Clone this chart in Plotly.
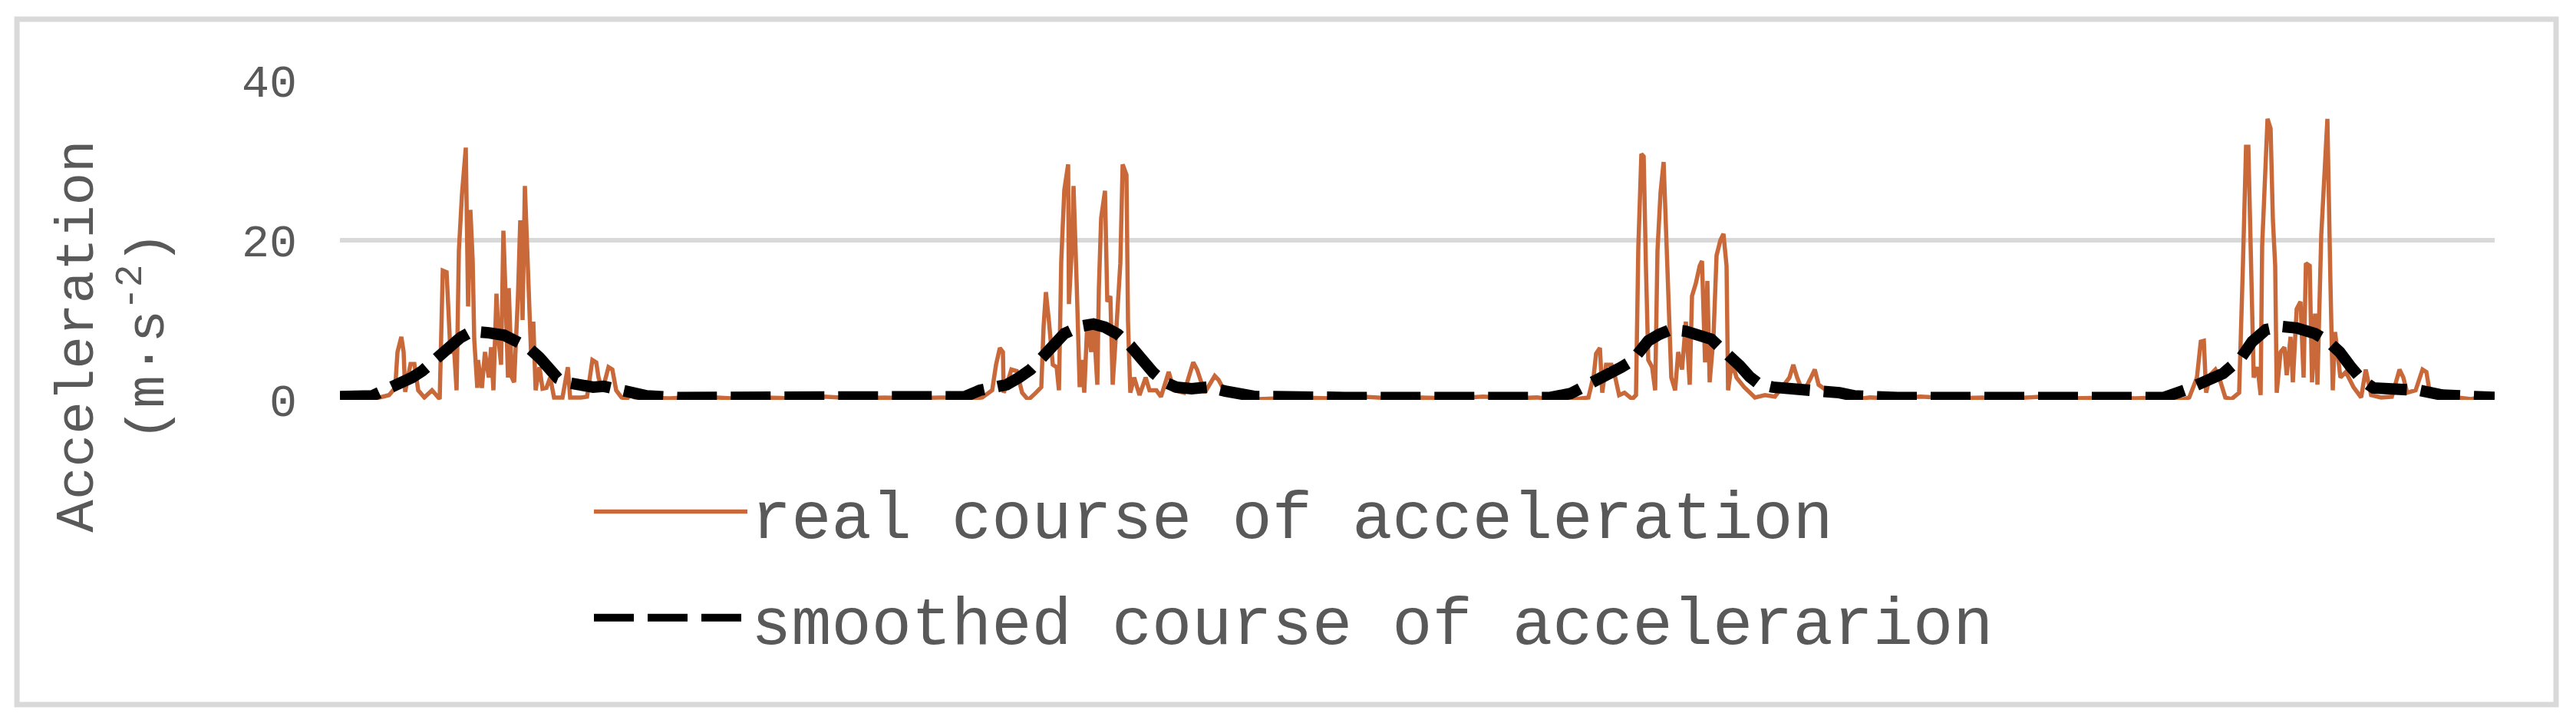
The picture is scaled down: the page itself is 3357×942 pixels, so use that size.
import plotly.graph_objects as go

# time axis = sample position along the record (no labels on the chart)
# values, acceleration in m/s^2

#------------------------------------------------------
# real course of acceleration, four bursts + quiet parts
#------------------------------------------------------
burst1_t = [0, 20, 44, 64, 72, 75, 80, 83, 85, 92, 97, 102, 110, 120, 130, 134, 139, 141, 144, 149,
            152, 155, 159, 164, 167, 170, 173, 175, 179, 180, 185, 189, 194, 197, 200, 204, 207, 210,
            213, 215, 219, 220, 224, 227, 232, 235, 238, 241, 244, 247, 249, 252, 255, 260, 264, 269,
            274, 279, 290, 297, 300, 314, 322, 329, 334, 337, 342, 350, 355, 360, 367, 374, 377, 384, 397]
burst1_a = [0.2, 0.3, 0.1, 0.6, 1.5, 6, 7.9, 6, 1, 4.5, 4.5, 1.2, 0.3, 1.2, 0.1, 16.2, 16, 11, 6, 6,
            1.2, 18.7, 25.7, 31.6, 11.7, 23.8, 17.4, 7.6, 1.5, 5, 1.5, 6, 2.8, 6.6, 1.2, 13.3, 7.3, 4.4,
            21.2, 15.5, 2.8, 14, 2.8, 2.2, 13, 22.5, 10, 26.8, 17.4, 9.8, 6, 9.8, 1.2, 4.1, 1.4, 1.5,
            2.8, 0.3, 0.3, 4.1, 0.3, 0.3, 0.4, 5, 4.7, 2.8, 1.2, 4.1, 3.8, 1.2, 0.3, 0.1, 0.6, 0.3, 0.3]

quiet1_t = [430, 470, 510, 550, 590, 630, 670, 710, 750, 780]
quiet1_a = [0.2, 0.4, 0.2, 0.3, 0.2, 0.4, 0.2, 0.3, 0.2, 0.3]

burst2_t = [797, 810, 817, 837, 850, 855, 860, 864, 865, 869, 875, 882, 889, 897, 907, 914, 917, 920,
            924, 929, 934, 937, 940, 944, 949, 950, 954, 956, 960, 964, 967, 970, 974, 979, 982, 987,
            989, 992, 997, 1000, 1004, 1007, 1012, 1017, 1020, 1025, 1027, 1030, 1035, 1042, 1050,
            1055, 1064, 1070, 1080, 1087, 1100, 1112, 1117, 1122, 1127, 1140, 1145, 1154, 1174, 1187,
            1197, 1217]
burst2_a = [0.3, 0.3, 0.1, 0.3, 1.2, 4.4, 6.5, 6, 0.9, 1.9, 3.8, 3.6, 0.9, 0, 0.9, 1.6, 9.2, 13.5,
            9.8, 4.4, 4.1, 1.2, 17.4, 26.3, 29.5, 12, 19.3, 26.8, 14.9, 1.6, 5, 0.9, 9.8, 6, 10.1, 1.9,
            13.9, 22.8, 26.2, 12.3, 13, 1.9, 9.2, 17.1, 29.5, 28.2, 9.8, 0.9, 2.8, 0.6, 2.8,
            1.2, 1.2, 0.4, 3.5, 1.2, 0.9, 4.7, 3.8, 2.5, 0.9, 3, 2.5, 0.9, 0.6, 0.4,
            0.1, 0.2]

quiet2_t = [1250, 1290, 1330, 1370, 1410, 1450, 1490, 1530, 1560]
quiet2_a = [0.3, 0.2, 0.4, 0.2, 0.3, 0.2, 0.4, 0.2, 0.3]

burst3_t = [1577, 1590, 1597, 1610, 1627, 1634, 1637, 1642, 1645, 1650, 1657, 1662, 1667, 1674, 1684,
            1689, 1692, 1696, 1699, 1702, 1705, 1710, 1714, 1717, 1721, 1725, 1729, 1732, 1735, 1740,
            1744, 1749, 1754, 1759, 1762, 1767, 1772, 1775, 1779, 1782, 1785, 1790, 1794, 1799, 1803,
            1807, 1809, 1814, 1820, 1830, 1844, 1857, 1870, 1889, 1894, 1899, 1907, 1917, 1922, 1927,
            1937, 1960, 1977, 1994]
burst3_a = [0.1, 0.3, 0.4, 0.1, 0.3, 3.1, 5.8, 6.5, 0.9, 4.4, 4.4, 2.8, 0.6, 0.9, 0.1,
            0.6, 19, 30.8, 30.5, 16.5, 5, 4.1, 1.2, 18.7, 26, 29.8, 19, 14.3, 2.8, 1.2,
            6, 3.8, 9.8, 1.9, 13, 14.6, 16.8, 17.4, 4.7, 14.9, 2.2, 7.9, 18.1, 20, 20.8,
            16.8, 1.2, 4.7, 2.8, 1.6, 0.3, 0.6, 0.4, 2.8, 4.4, 2.8, 0.9, 2.8, 3.8, 1.9,
            1.2, 0.6, 0.1, 0.3]

quiet3_t = [2020, 2060, 2100, 2140, 2180, 2220, 2260, 2300, 2340, 2365]
quiet3_a = [0.2, 0.4, 0.2, 0.3, 0.2, 0.4, 0.2, 0.3, 0.2, 0.3]

burst4_t = [2377, 2390, 2400, 2410, 2420, 2425, 2429, 2432, 2437, 2444, 2449, 2457, 2465, 2475, 2480,
            2484, 2487, 2490, 2494, 2499, 2503, 2505, 2509, 2512, 2516, 2519, 2522, 2524, 2529, 2534,
            2537, 2542, 2545, 2550, 2555, 2559, 2562, 2567, 2570, 2574, 2577, 2582, 2586, 2590, 2594,
            2597, 2600, 2607, 2614, 2624, 2634, 2640, 2647, 2660, 2674, 2684, 2689, 2694, 2705, 2714,
            2719, 2724, 2740, 2760, 2777, 2794, 2808]
burst4_a = [0.3, 0.4, 0, 0.3, 2.8, 7.3, 7.4, 0.9, 3.1, 3.8, 2.8, 0.3, 0.1, 0.9, 17.1,
            31.7, 31.7, 19.7, 2.8, 4.1, 0.6, 19.3, 27.1, 35.2, 34, 22.5, 16.8, 0.9, 6, 6.6,
            3.1, 7.9, 2.2, 11.4, 12.3, 2.8, 17.1, 16.8, 2.2, 10.8, 1.9, 20.6, 27.9, 35.2, 14.6,
            1.2, 8.5, 2.8, 3.5, 1.6, 0.3, 3.8, 0.6, 0.3, 0.4, 3.8, 2.8, 0.9, 1.2, 3.8,
            3.5, 0.6, 0.3, 0.3, 0.1, 0.4, 0.3]

#------------------------------------------------------
# smoothed course
#------------------------------------------------------
smooth1_t = [0, 42, 60, 77, 94, 107, 120, 134, 144, 157, 172, 184, 194, 214, 234, 245, 260, 272, 284,
             300, 320, 330, 344, 364, 384, 400]
smooth1_a = [0.4, 0.5, 1.3, 1.9, 2.8, 3.6, 4.8, 5.7, 6.9, 7.8, 8.6, 8.6, 8.4, 8.1, 7.3, 6.6, 5.3, 3.8, 2.7,
             2.1, 1.6, 1.6, 1.7, 1.3, 0.8, 0.5]

smooth_q1_t = [440, 500, 560, 620, 680, 740, 780]
smooth_q1_a = [0.3, 0.3, 0.3, 0.3, 0.3, 0.3, 0.2]

smooth2_t = [797, 814, 834, 855, 869, 885, 900, 915, 930, 944, 964, 982, 997, 1014, 1030, 1045, 1060,
             1075, 1090, 1110, 1132, 1154, 1170, 1194, 1217]
smooth2_a = [0.1, 0.4, 1.2, 1.6, 1.9, 2.8, 3.8, 5.3, 6.8, 8.3, 9.2, 9.5, 9.1, 8.2, 6.8, 4.9, 3.4,
             2.2, 1.6, 1.4, 1.6, 1.1, 0.8, 0.4, 0.4]

smooth_q2_t = [1250, 1310, 1370, 1430, 1490, 1550]
smooth_q2_a = [0.3, 0.3, 0.3, 0.3, 0.3, 0.3]

smooth3_t = [1577, 1604, 1620, 1639, 1654, 1670, 1684, 1694, 1705, 1719, 1734, 1754, 1772, 1787, 1797,
             1814, 1824, 1837, 1849, 1867, 1890, 1910, 1934, 1954, 1974, 1994]
smooth3_a = [0.3, 0.8, 1.6, 2.2, 3.1, 4.1, 4.9, 6.3, 7.4, 8.2, 8.8, 8.6, 8.2, 7.6, 6.7,
             5.4, 4.3, 2.9, 2.0, 1.6, 1.5, 1.4, 1.2, 0.9, 0.5, 0.3]

smooth_q3_t = [2030, 2090, 2150, 2210, 2270, 2330]
smooth_q3_a = [0.3, 0.3, 0.3, 0.3, 0.3, 0.3]

smooth4_t = [2377, 2404, 2420, 2440, 2454, 2477, 2492, 2510, 2530, 2550, 2574, 2590, 2606, 2620, 2635,
             2650, 2674, 2710, 2740, 2777, 2808]
smooth4_a = [0.3, 1.2, 1.9, 2.5, 3.3, 5.2, 7.3, 8.8, 9.2, 9.0, 8.3, 7.4, 6.0, 4.2, 2.5,
             1.5, 1.5, 1.2, 0.6, 0.5, 0.3]

y_ticks = [0, 20, 40]

t_real = burst1_t + quiet1_t + burst2_t + quiet2_t + burst3_t + quiet3_t + burst4_t
a_real = burst1_a + quiet1_a + burst2_a + quiet2_a + burst3_a + quiet3_a + burst4_a
t_smooth = smooth1_t + smooth_q1_t + smooth2_t + smooth_q2_t + smooth3_t + smooth_q3_t + smooth4_t
a_smooth = smooth1_a + smooth_q1_a + smooth2_a + smooth_q2_a + smooth3_a + smooth_q3_a + smooth4_a

GREY_TXT = "#595959"
GRID = "#D9D9D9"
FONT = "Liberation Mono, Courier New, monospace"

fig = go.Figure()

fig.add_trace(go.Scatter(
    x=t_real, y=a_real, mode="lines",
    name="real course of acceleration",
    line=dict(color="#C9693A", width=5.5),
    legend="legend",
))
fig.add_trace(go.Scatter(
    x=t_smooth, y=a_smooth, mode="lines",
    name="smoothed course of accelerarion",
    line=dict(color="black", width=15, dash="52px,18px"),
    legend="legend2",
))

leg_common = dict(
    xanchor="left", yanchor="middle",
    font=dict(family=FONT, size=87, color=GREY_TXT),
    bgcolor="rgba(0,0,0,0)", itemwidth=200,
)

fig.update_layout(
    width=3357, height=942,
    margin=dict(l=443, r=106, t=105, b=421),
    paper_bgcolor="white", plot_bgcolor="white",
    showlegend=True,
    legend=dict(x=0.1161, y=-0.351, **leg_common),
    legend2=dict(x=0.1161, y=-0.683, **leg_common),
    xaxis=dict(range=[0, 2808], visible=False, showgrid=False, zeroline=False),
    yaxis=dict(
        range=[0, 40], tickvals=y_ticks, showgrid=True, gridcolor=GRID, gridwidth=6,
        zeroline=False, showline=False, ticks="", ticklabelstandoff=55,
        tickfont=dict(family=FONT, size=60, color=GREY_TXT),
    ),
    annotations=[dict(
        text="Acceleration<br>(m·s<sup>-2</sup>)",
        xref="paper", yref="paper", x=-0.1051, y=0.2,
        xanchor="center", yanchor="middle", showarrow=False, textangle=-90,
        font=dict(family=FONT, size=71, color=GREY_TXT),
    )],
    shapes=[dict(
        type="rect", xref="paper", yref="paper",
        x0=-0.1499, x1=1.0285, y0=-0.9543, y1=1.1923,
        line=dict(color=GRID, width=7), fillcolor="rgba(0,0,0,0)", layer="below",
    )],
)

fig.write_html("out.html", config={"displayModeBar": False},
               post_script="document.body.style.margin='0';")
